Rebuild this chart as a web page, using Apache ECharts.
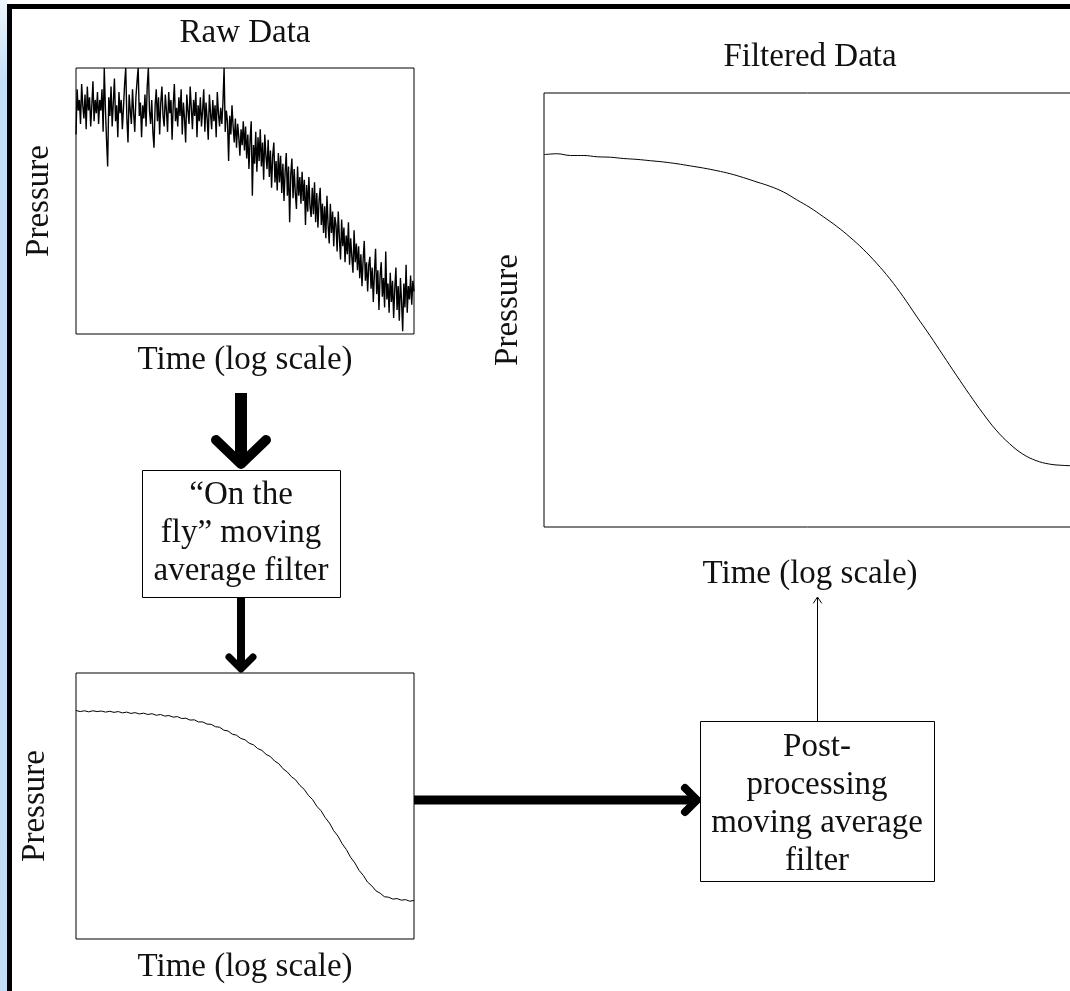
<!DOCTYPE html>
<html>
<head>
<meta charset="utf-8">
<title>Moving average filter</title>
<script src="https://cdn.jsdelivr.net/npm/echarts@6/dist/echarts.min.js"></script>
<style>
html, body { margin: 0; padding: 0; background: #fff; }
#main { width: 1070px; height: 991px; }
</style>
</head>
<body>
<div id="main"></div>
<script>
// raw pressure readings (normalised 0-100), one per sample
var rawPressure = [
  75, 92, 84, 88, 79, 94, 86, 81, 90, 77,
  93, 84, 89, 78, 86, 95, 80, 88, 83, 91,
  79, 88, 84, 92, 76, 100, 85, 73, 63, 89,
  82, 93, 78, 87, 96, 80, 86, 74, 91, 83,
  88, 77, 85, 94, 100, 81, 72, 90, 84, 79,
  92, 83, 76, 89, 95, 100, 82, 87, 74, 86,
  81, 90, 78, 93, 100, 84, 79, 88, 76, 70,
  86, 92, 80, 89, 75, 87, 93, 82, 78, 90,
  84, 76, 91, 83, 88, 73, 86, 94, 80, 85,
  78, 89, 82, 92, 75, 87, 81, 72, 90, 84,
  79, 93, 85, 77, 88, 82, 91, 74, 86, 80,
  89, 78, 84, 92, 76, 87, 81, 73, 90, 83,
  77, 88, 80, 86, 74, 91, 83, 78, 85, 79,
  87, 100, 76, 84, 80, 65, 82, 75, 86, 78,
  72, 81, 70, 79, 74, 67, 77, 71, 80, 69,
  78, 66, 75, 62, 73, 80, 52, 71, 64, 76,
  61, 74, 65, 77, 63, 72, 58, 75, 67, 62,
  73, 59, 69, 55, 67, 72, 57, 65, 54, 68,
  57, 67, 53, 64, 50, 61, 68, 52, 63, 42,
  60, 66, 51, 62, 53, 47, 63, 52, 59, 49,
  61, 50, 58, 41, 56, 46, 59, 48, 44, 55,
  45, 57, 42, 53, 40, 50, 55, 41, 49, 38,
  48, 36, 52, 41, 34, 49, 38, 46, 33, 44,
  41, 31, 46, 36, 28, 43, 33, 40, 27, 37,
  30, 42, 26, 36, 29, 23, 39, 27, 34, 24,
  33, 21, 30, 18, 28, 35, 20, 27, 16, 26,
  29, 17, 25, 12, 23, 32, 15, 24, 9, 22,
  27, 14, 21, 10, 31, 13, 19, 8, 23, 12,
  20, 6, 17, 25, 9, 18, 5, 21, 12, 1,
  19, 10, 26, 8, 18, 13, 22, 11, 20, 16
];

// after the "on the fly" filter
var onFlyPressure = [
  85.9, 85.5, 85.8, 85.4, 85.8, 85.5, 85.7, 85.3, 85.6, 85.2,
  85.5, 85.0, 85.3, 84.8, 85.1, 84.6, 84.9, 84.4, 84.7, 84.1,
  84.4, 83.8, 84.0, 83.4, 83.6, 82.9, 83.0, 82.3, 82.4, 81.6,
  81.6, 80.8, 80.7, 79.8, 79.6, 78.5, 78.2, 77.0, 76.6, 75.4,
  74.9, 73.6, 73.0, 71.6, 70.9, 69.4, 68.6, 66.9, 65.9, 64.0,
  62.8, 61.0, 59.8, 57.7, 56.3, 54.0, 52.4, 49.9, 48.2, 45.6,
  43.6, 40.7, 38.7, 35.8, 33.6, 30.7, 28.6, 25.8, 23.9, 21.4,
  20.0, 18.1, 17.2, 15.9, 15.7, 15.0, 15.2, 14.6, 14.8, 14.2,
  14.5
];

// after post-processing
var filteredPressure = [
  85.8, 86.0, 85.6, 85.6, 85.3, 85.2, 84.9, 84.7, 84.4, 84.1,
  83.7, 83.2, 82.7, 82.1, 81.4, 80.5, 79.5, 78.5, 77.2, 75.4,
  73.6, 71.5, 69.3, 66.8, 64.0, 60.8, 57.2, 53.1, 48.6, 44.2,
  39.6, 35.0, 30.5, 26.2, 22.3, 19.2, 16.8, 15.3, 14.5, 14.2,
  14.1
];

var chartTitles = ["Raw Data", "Filtered Data"];
var xName = "Time (log scale)";
var yName = "Pressure";
var stepTexts = [
  "\u201cOn the\nfly\u201d moving\naverage filter",
  "Post-\nprocessing\nmoving average\nfilter"
];

var FONT = '"Liberation Serif", "DejaVu Serif", serif';
var INK = "#111";

function toPairs(arr) {
  return arr.map(function (v, i) {
    return [i, v];
  });
}

function makeGrid(left, top, width, height) {
  return {
    left: left,
    top: top,
    width: width,
    height: height,
    show: true,
    borderColor: "#000",
    borderWidth: 1,
    backgroundColor: "#fff",
    outerBoundsMode: "none"
  };
}

function makeX(idx, n, gap) {
  return {
    gridIndex: idx,
    type: "value",
    min: 0,
    max: n - 1,
    name: xName,
    nameLocation: "middle",
    nameGap: gap,
    nameTextStyle: { fontFamily: FONT, fontSize: 33, color: INK },
    axisLine: { show: false },
    axisTick: { show: false },
    axisLabel: { show: false },
    splitLine: { show: false }
  };
}

function makeY(idx, gap) {
  return {
    gridIndex: idx,
    type: "value",
    min: 0,
    max: 100,
    name: yName,
    nameLocation: "middle",
    nameRotate: 90,
    nameGap: gap,
    nameTextStyle: { fontFamily: FONT, fontSize: 33, color: INK },
    axisLine: { show: false },
    axisTick: { show: false },
    axisLabel: { show: false },
    splitLine: { show: false }
  };
}

function makeLine(idx, data, width, smooth) {
  return {
    type: "line",
    xAxisIndex: idx,
    yAxisIndex: idx,
    data: toPairs(data),
    showSymbol: false,
    smooth: smooth,
    lineStyle: { color: "#000", width: width },
    animation: false,
    silent: true
  };
}

// arrow = shaft + chevron head
function arrow(x1, y1, x2, y2, shaftW, head, headW) {
  return [
    {
      type: "line",
      shape: { x1: x1, y1: y1, x2: x2, y2: y2 },
      style: { stroke: "#000", lineWidth: shaftW },
      z: 20
    },
    {
      type: "polyline",
      shape: { points: head },
      style: { stroke: "#000", lineWidth: headW, lineCap: "round", lineJoin: "round", fill: null },
      z: 20
    }
  ];
}

function label(x, y, text, rot) {
  return {
    type: "text",
    x: x,
    y: y,
    rotation: rot || 0,
    style: {
      text: text,
      font: "33px " + FONT,
      fill: INK,
      align: "center",
      verticalAlign: "middle",
      lineHeight: 38
    },
    z: 30
  };
}

var graphics = [
  // window frame
  {
    type: "rect",
    shape: { x: 0, y: 0, width: 7, height: 991 },
    style: {
      fill: new echarts.graphic.LinearGradient(0, 0, 0, 1, [
        { offset: 0, color: "#eef5fc" },
        { offset: 0.08, color: "#c6dff8" },
        { offset: 1, color: "#c2ddf8" }
      ])
    },
    z: 1
  },
  { type: "rect", shape: { x: 7, y: 4, width: 1063, height: 5 }, style: { fill: "#000" }, z: 2 },
  { type: "rect", shape: { x: 7, y: 4, width: 5, height: 987 }, style: { fill: "#000" }, z: 2 },

  label(245, 33, chartTitles[0]),
  label(810, 57, chartTitles[1]),

  // filter boxes
  {
    type: "rect",
    shape: { x: 142.5, y: 470.5, width: 198, height: 127 },
    style: { fill: "#fff", stroke: "#000", lineWidth: 1 },
    z: 25
  },
  label(241, 533, stepTexts[0]),
  {
    type: "rect",
    shape: { x: 700.5, y: 721.5, width: 234, height: 160 },
    style: { fill: "#fff", stroke: "#000", lineWidth: 1 },
    z: 25
  },
  label(817, 804, stepTexts[1])
];

graphics = graphics
  .concat(arrow(241, 393, 241, 460, 12, [[216, 440], [241, 464], [266, 440]], 10))
  .concat(arrow(241, 597, 241, 668, 8, [[229, 657], [241, 669], [253, 657]], 7))
  .concat(arrow(414, 800, 695, 800, 9, [[685, 788], [697, 800], [685, 812]], 8))
  .concat(arrow(817.5, 721, 817.5, 598, 1, [[813.5, 603], [817.5, 597], [821.5, 603]], 1));

var myChart = echarts.init(document.getElementById("main"), null, { renderer: "canvas" });

var option = {
  backgroundColor: "#fff",
  animation: false,
  grid: [
    makeGrid(76, 68, 338, 266),
    makeGrid(76, 673, 338, 266),
    makeGrid(544, 93, 532, 434)
  ],
  xAxis: [
    makeX(0, rawPressure.length, 10),
    makeX(1, onFlyPressure.length, 12),
    makeX(2, filteredPressure.length, 31)
  ],
  yAxis: [makeY(0, 20), makeY(1, 24), makeY(2, 19)],
  series: [
    makeLine(0, rawPressure, 1.4, false),
    makeLine(1, onFlyPressure, 1, false),
    makeLine(2, filteredPressure, 1, 0.4)
  ],
  graphic: { elements: graphics }
};

myChart.setOption(option);
</script>
</body>
</html>
